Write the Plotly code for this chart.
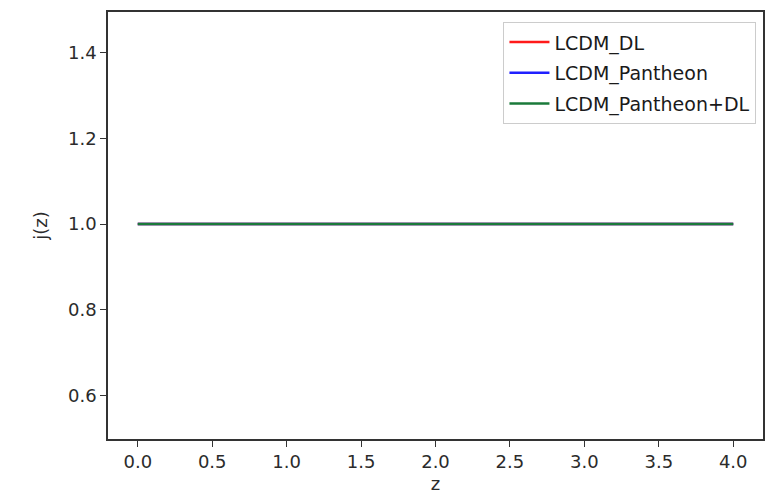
import plotly.graph_objects as go

z_vals = [0.0, 0.5, 1.0, 1.5, 2.0, 2.5, 3.0, 3.5, 4.0]
j_dl = [1.0, 1.0, 1.0, 1.0, 1.0, 1.0, 1.0, 1.0, 1.0]
j_pantheon = [1.0, 1.0, 1.0, 1.0, 1.0, 1.0, 1.0, 1.0, 1.0]
j_pantheon_dl = [1.0, 1.0, 1.0, 1.0, 1.0, 1.0, 1.0, 1.0, 1.0]
names = ["LCDM_DL", "LCDM_Pantheon", "LCDM_Pantheon+DL"]
colors = ["#ff1a1a", "#2020ff", "#1a7a3a"]
x_ticks = [0.0, 0.5, 1.0, 1.5, 2.0, 2.5, 3.0, 3.5, 4.0]
y_ticks = [0.6, 0.8, 1.0, 1.2, 1.4]

fig = go.Figure()
for ys, name, col in zip([j_dl, j_pantheon, j_pantheon_dl], names, colors):
    fig.add_trace(go.Scatter(x=z_vals, y=ys, mode="lines", name=name, legendgroup=name,
                             line=dict(color=col, width=2.5)))

font_col = "#2b2b2b"
axis_common = dict(showgrid=False, zeroline=False, showline=True, linecolor="#333333",
                   linewidth=1.5, mirror=True, ticks="outside", ticklen=6, tickwidth=1.3,
                   tickcolor="#333333", tickfont=dict(size=18, color=font_col))

fig.update_layout(
    width=769, height=495,
    margin=dict(l=108, r=4, t=12, b=56),
    paper_bgcolor="white", plot_bgcolor="white",
    font=dict(family="DejaVu Sans", color=font_col, size=18),
    xaxis=dict(range=[-0.2, 4.2], tickvals=x_ticks, ticktext=[f"{v:.1f}" for v in x_ticks],
               title=dict(text="z", font=dict(size=18), standoff=6), **axis_common),
    yaxis=dict(range=[0.498, 1.495], tickvals=y_ticks, ticktext=[f"{v:.1f}" for v in y_ticks],
               title=dict(text="j(z)", font=dict(size=18), standoff=16), **axis_common),
    legend=dict(x=0.99, y=0.976, xanchor="right", yanchor="top",
                bgcolor="rgba(255,255,255,0.9)", bordercolor="#cccccc", borderwidth=1,
                font=dict(size=19, color="#1a1a1a"), itemwidth=40, tracegroupgap=3,
                traceorder="grouped"),
    showlegend=True,
)

fig.write_html("out.html")
